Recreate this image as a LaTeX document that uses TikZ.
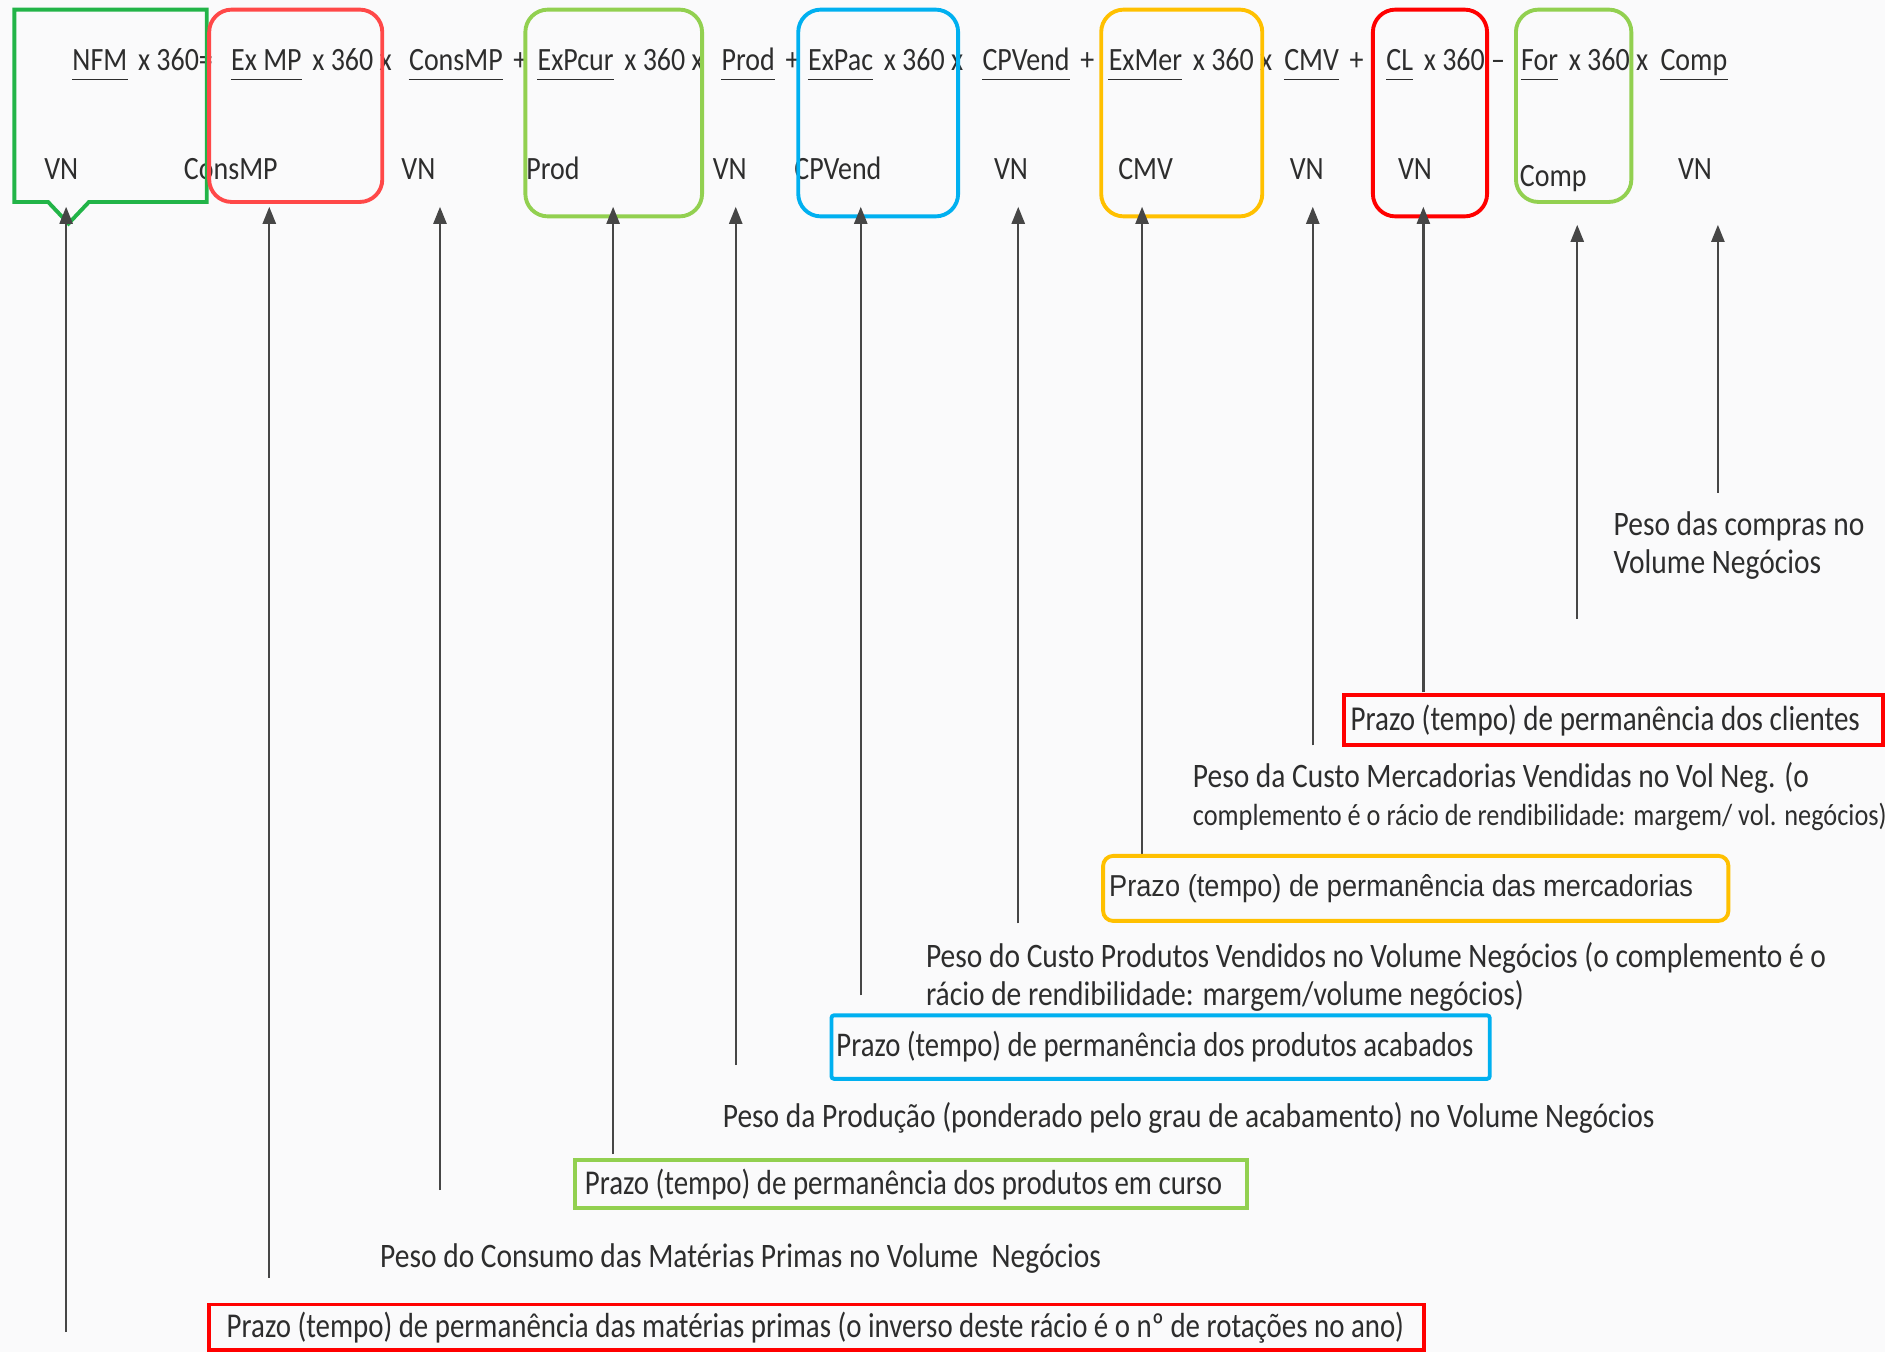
\documentclass[tikz,border=0pt]{standalone}
\usepackage{fontspec}
\setmainfont{Carlito}[FakeStretch=0.86]
\newfontfamily\prazofont{Carlito}[FakeStretch=0.83]
\newfontfamily\arialish{Liberation Sans}[FakeStretch=0.9]
\usetikzlibrary{arrows.meta}

\definecolor{paper}{RGB}{250,250,251}
\definecolor{ink}{RGB}{45,45,45}
\definecolor{arrowgray}{RGB}{70,70,70}
\definecolor{callgreen}{RGB}{34,180,72}
\definecolor{softred}{RGB}{255,72,72}
\definecolor{lime}{RGB}{146,208,80}
\definecolor{sky}{RGB}{0,176,240}
\definecolor{amber}{RGB}{255,192,0}
\definecolor{pure}{RGB}{255,0,0}

\tikzset{
  txt/.style={text=ink, font=\fontsize{18.5}{21}\selectfont, inner sep=0pt},
  num/.style={txt, anchor=base west},
  den/.style={txt, anchor=base},
  uline/.style={draw=ink, line width=1pt},
  hilite/.style={line width=2.2pt, rounded corners=0.45cm},
  arr/.style={draw=arrowgray, line width=1.3pt,
    -{Triangle[width=0.26cm,length=0.34cm]}},
  prazo/.style={text=ink, draw, line width=2.2pt, anchor=west,
    inner ysep=0pt, rounded corners=1.5pt,
    font=\prazofont\fontsize{19.7}{22}\selectfont},
  peso/.style={txt, anchor=west, align=left, font=\fontsize{19.5}{21.6}\selectfont},
}

\begin{document}
\begin{tikzpicture}[x=0.02404cm,y=-0.02404cm]

  \useasboundingbox (0,0) rectangle (1568,1125);
  \fill[paper] (0,0) rectangle (1568,1125);

  % ----------------------------------------------------------------
  % top line: numerators (underlined) and operators
  % ----------------------------------------------------------------
  \foreach \id/\x/\t/\op in {%
    nfm/60/NFM/{x 360=},
    exmp/192/Ex MP/{x 360 x},
    consmp/340/ConsMP/+,
    expcur/447/ExPcur/{x 360 x},
    prod/600/Prod/+,
    expac/672/ExPac/{x 360 x},
    cpvend/817/CPVend/+,
    exmer/922/ExMer/{x 360 x},
    cmv/1068/CMV/+,
    cl/1153/CL/{x 360 --},
    for/1265/For/{x 360 x},
    comp/1381/Comp/{}}{
    \node[num] (n-\id) at (\x,59) {\t};
    \draw[uline] ([yshift=-0.17cm]n-\id.base west) -- ([yshift=-0.17cm]n-\id.base east);
    \node[num] (o-\id) at ([xshift=0.2cm]n-\id.base east) {\op};
  }

  % denominators
  \foreach \id/\x/\t/\y in {%
    d1/51/VN/149, d2/192/ConsMP/149, d3/348/VN/149, d4/460/Prod/149,
    d5/607/VN/149, d6/697/CPVend/149, d7/841/VN/149, d8/953/CMV/149,
    d9/1087/VN/149, d10/1177/VN/149, d11/1292/Comp/155, d12/1410/VN/149}{
    \node[den] (\id) at (\x,\y) {\t};
  }

  % ----------------------------------------------------------------
  % coloured frames round the terms
  % ----------------------------------------------------------------
  \draw[hilite, draw=callgreen, rounded corners=0pt]
    (12,8) -- (172,8) -- (172,168) -- (74,168) -- (57,186) -- (40,168) -- (12,168) -- cycle;
  \draw[hilite, draw=softred] (174,8) rectangle (318,168);
  \draw[hilite, draw=lime]    (437,8) rectangle (584,180);
  \draw[hilite, draw=sky]     (664,8) rectangle (797,180);
  \draw[hilite, draw=amber]   (916,8) rectangle (1050,180);
  \draw[hilite, draw=pure]    (1142,8) rectangle (1237,180);
  \draw[hilite, draw=lime]    (1261,8) rectangle (1357,168);

  % ----------------------------------------------------------------
  % arrows up to the terms
  % ----------------------------------------------------------------
  \foreach \i/\x/\yt/\yb in {%
    1/55/172/1108, 2/224/172/1063, 3/366/172/990, 4/510/172/960,
    5/612/172/886, 6/716/172/828, 7/847/172/768, 8/950/172/710,
    9/1092/172/620, 10/1184/172/576, 11/1312/187/515, 12/1429/187/410}{
    \coordinate (tip\i) at (\x,\yt);
    \coordinate (tail\i) at (\x,\yb);
    \draw[arr] (tail\i) -- (tip\i);
  }

  % ----------------------------------------------------------------
  % what each ratio means
  % ----------------------------------------------------------------
  \node[peso] (pcomp) at (1342,454) {Peso das compras no\\Volume Negócios};
  \node[prazo, draw=pure, rounded corners=0pt, inner xsep=0.14cm, minimum height=1.0cm,
    font=\prazofont\fontsize{19.9}{23}\selectfont]
    (pcli) at (1116,599) {\makebox[10.51cm][l]{Prazo (tempo) de permanência dos clientes}};
  \node[peso] (pcmv) at (992,663)
    {Peso da Custo Mercadorias Vendidas no Vol Neg. (o\\
     {\fontsize{17.4}{19}\selectfont complemento é o rácio de rendibilidade: margem/ vol. negócios)}};
  \node[prazo, draw=amber, rounded corners=0.2cm, inner xsep=0.12cm, minimum height=1.3cm,
    font=\arialish\fontsize{17.2}{20}\selectfont]
    (pmer) at (916,739) {\makebox[12.26cm][l]{Prazo (tempo) de permanência das mercadorias}};
  \node[peso] (pcpv) at (770,813)
    {Peso do Custo Produtos Vendidos no Volume Negócios (o complemento é o\\rácio de rendibilidade: margem/volume negócios)};
  \node[prazo, draw=sky, inner xsep=0.1cm, minimum height=1.27cm]
    (pacab) at (690,871) {\makebox[12.96cm][l]{Prazo (tempo) de permanência dos produtos acabados}};
  \node[peso] (pprod) at (601,930)
    {Peso da Produção (ponderado pelo grau de acabamento) no Volume Negócios};
  \node[prazo, draw=lime, rounded corners=0pt, inner xsep=0.19cm, minimum height=0.96cm,
    font=\prazofont\fontsize{19.8}{22}\selectfont]
    (pcur) at (477,985) {\makebox[13.05cm][l]{Prazo (tempo) de permanência dos produtos em curso}};
  \node[peso] (pcons) at (316,1047) {Peso do Consumo das Matérias Primas no Volume\ \ Negócios};
  \node[prazo, draw=pure, rounded corners=0pt, inner xsep=0.36cm, minimum height=0.91cm,
    font=\prazofont\fontsize{19.8}{22}\selectfont]
    (pmp) at (172,1104)
    {\makebox[23.58cm][l]{Prazo (tempo) de permanência das matérias primas (o inverso deste rácio é o nº de rotações no ano)}};

\end{tikzpicture}
\end{document}
